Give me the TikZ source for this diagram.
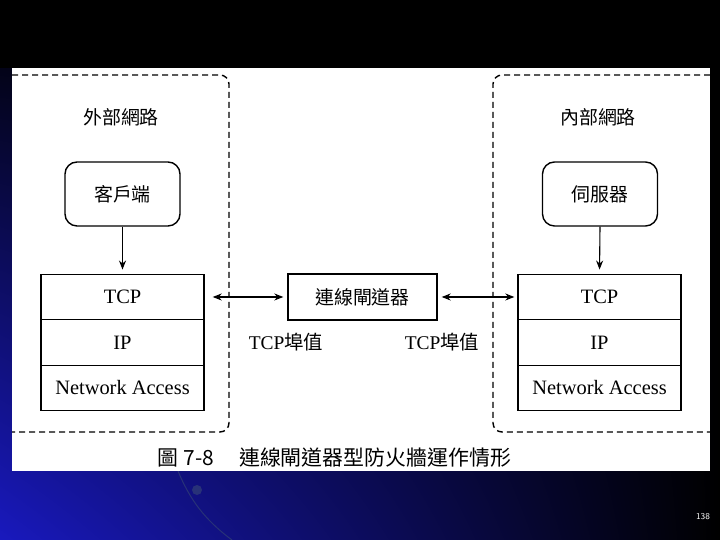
\documentclass[tikz,border=0pt]{standalone}
\usepackage{fontspec}
\setmainfont{Liberation Serif}
\newfontfamily\cjk{Noto Sans CJK TC}
\usepackage{tikz}
\usetikzlibrary{arrows.meta,positioning,shadings}
\definecolor{slideblue}{RGB}{25,25,190}
\definecolor{arcblue}{RGB}{40,50,120}

\begin{document}
\begin{tikzpicture}[x=1bp,y=1bp,
          layer/.style={draw,line width=1.4pt,minimum width=163bp,minimum height=45.5bp,
                        inner sep=0pt,font=\fontsize{20.5}{22}\selectfont},
          host/.style={draw,line width=1.4pt,rounded corners=12bp,minimum width=115bp,
                       minimum height=64bp,font=\cjk\fontsize{19}{21}\selectfont},
          gate/.style={draw,line width=1.4pt,minimum width=149bp,minimum height=46bp,
                       font=\cjk\fontsize{19}{21}\selectfont},
          zone/.style={dash pattern=on 6bp off 4bp,line width=1.4pt,rounded corners=9bp},
          lbl/.style={font=\cjk\fontsize{19}{21}\selectfont},
          link/.style={->,>={Stealth[length=9bp,width=7bp]},line width=1.1pt}]
        % slide background
        \useasboundingbox (0,0) rectangle (720,540);
        \shade[upper left=black,upper right=black,lower left=slideblue,lower right=black]
          (0,0) rectangle (720,540);
        \fill[black] (0,472) rectangle (720,540);
        \draw[arcblue,line width=1pt] (178,69) .. controls (190,40) and (205,20) .. (232,0);
        \fill[arcblue] (197,50) circle (5bp);
        \fill[white] (12,69) rectangle (710,472);
        % network zones
        \draw[zone] (12,465) -- (229,465) -- (229,108) -- (12,108);
        \draw[zone] (710,465) -- (493,465) -- (493,108) -- (710,108);
        \node[lbl] (extlbl) at (121,423) {外部網路};
        \node[lbl] (intlbl) at (598,423) {內部網路};
        % hosts
        \node[host] (client) at (122.5,346) {客戶端};
        \node[host] (server) at (600,346) {伺服器};
        % protocol stacks
        \node[layer] (ltcp) at (122.5,243) {TCP};
        \node[layer,below=-1.4pt of ltcp] (lip) {IP};
        \node[layer,below=-1.4pt of lip] (lna) {Network Access};
        \node[layer] (rtcp) at (599.5,243) {TCP};
        \node[layer,below=-1.4pt of rtcp] (rip) {IP};
        \node[layer,below=-1.4pt of rip] (rna) {Network Access};
        % gateway
        \node[gate] (gw) at (362.5,243) {連線閘道器};
        \node[font=\fontsize{19.5}{21}\selectfont] (lport) at (286,198) {TCP{\cjk 埠值}};
        \node[font=\fontsize{19.5}{21}\selectfont] (rport) at (442,198) {TCP{\cjk 埠值}};
        % connections
        \draw[link,shorten >=4bp] (client.south) -- (ltcp.north);
        \draw[link,shorten >=4bp] (server.south) -- (rtcp.north);
        \draw[link,<->,shorten <=8bp,shorten >=4bp] (ltcp.east) -- (gw.west);
        \draw[link,<->,shorten <=4bp,shorten >=3bp] (gw.east) -- (rtcp.west);
        % caption and page number
        \node[lbl,font=\cjk\fontsize{21}{23}\selectfont] (capnum) at (186,82) {圖 7-8};
        \node[lbl,font=\cjk\fontsize{21}{23}\selectfont,right=18bp of capnum] (captext)
          {連線閘道器型防火牆運作情形};
        \node[white,font=\sffamily\fontsize{9}{10}\selectfont] (page) at (703,23) {138};
      \end{tikzpicture}
\end{document}
